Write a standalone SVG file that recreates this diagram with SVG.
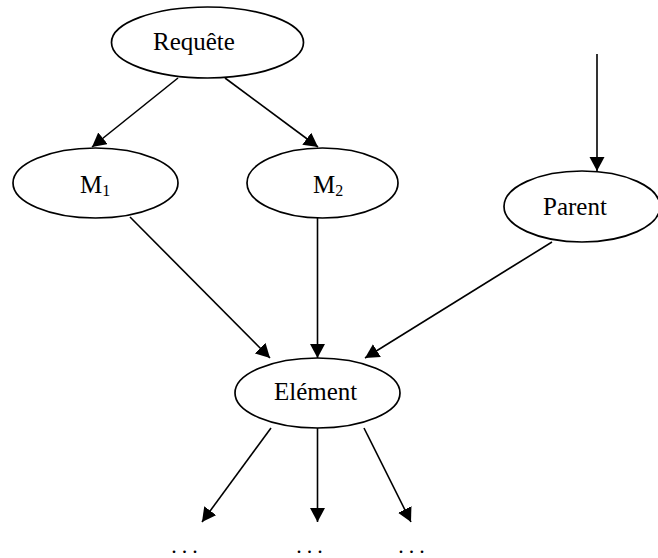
<svg xmlns="http://www.w3.org/2000/svg" width="658" height="558" viewBox="0 0 658 558">
  <style>
    .node ellipse { fill: #ffffff; stroke: #000000; stroke-width: 1.7; }
    .label { font-family: "Liberation Serif", "Times New Roman", serif; font-size: 25px; fill: #000000; }
    .sub { font-size: 16px; }
    .edge { stroke: #000000; stroke-width: 1.6; fill: none; marker-end: url(#arrow); }
    .dots { font-family: "Liberation Serif", "Times New Roman", serif; font-size: 22px; letter-spacing: 5px; fill: #000000; }
  </style>
  <defs>
    <marker id="arrow" markerUnits="userSpaceOnUse" markerWidth="16" markerHeight="16" refX="14" refY="7.5" orient="auto">
      <path d="M0,0 L14,7.5 L0,15 z" fill="#000000"/>
    </marker>
  </defs>
  <rect width="658" height="558" fill="#ffffff"/>

  <g id="edges">
    <line class="edge" x1="178" y1="78" x2="92" y2="147"/>
    <line class="edge" x1="225" y1="78" x2="318" y2="147"/>
    <line class="edge" x1="597" y1="54" x2="597" y2="171"/>
    <line class="edge" x1="130" y1="217" x2="270" y2="358"/>
    <line class="edge" x1="317.5" y1="218" x2="317.5" y2="358"/>
    <line class="edge" x1="552" y1="242" x2="365" y2="358"/>
    <line class="edge" x1="271" y1="428" x2="202" y2="522"/>
    <line class="edge" x1="317.5" y1="428" x2="317.5" y2="522"/>
    <line class="edge" x1="364" y1="428" x2="411" y2="522"/>
  </g>

  <g id="requete" class="node">
    <ellipse cx="207.5" cy="42.5" rx="96" ry="35.5"/>
    <text class="label" x="153" y="50">Requête</text>
  </g>
  <g id="m1" class="node">
    <ellipse cx="95.5" cy="183" rx="82.5" ry="35"/>
    <text class="label" x="80" y="193">M<tspan class="sub" dy="3">1</tspan></text>
  </g>
  <g id="m2" class="node">
    <ellipse cx="322.5" cy="183" rx="75.5" ry="35"/>
    <text class="label" x="313" y="193">M<tspan class="sub" dy="3">2</tspan></text>
  </g>
  <g id="parent" class="node">
    <ellipse cx="582" cy="206.5" rx="78" ry="35.5"/>
    <text class="label" x="543" y="215">Parent</text>
  </g>
  <g id="element" class="node">
    <ellipse cx="317.5" cy="393" rx="82.5" ry="35"/>
    <text class="label" x="274" y="400">Elément</text>
  </g>

  <g id="continuations">
    <text class="dots" x="171.3" y="553.2">...</text>
    <text class="dots" x="296.3" y="553.2">...</text>
    <text class="dots" x="398.3" y="553.2">...</text>
  </g>
</svg>
